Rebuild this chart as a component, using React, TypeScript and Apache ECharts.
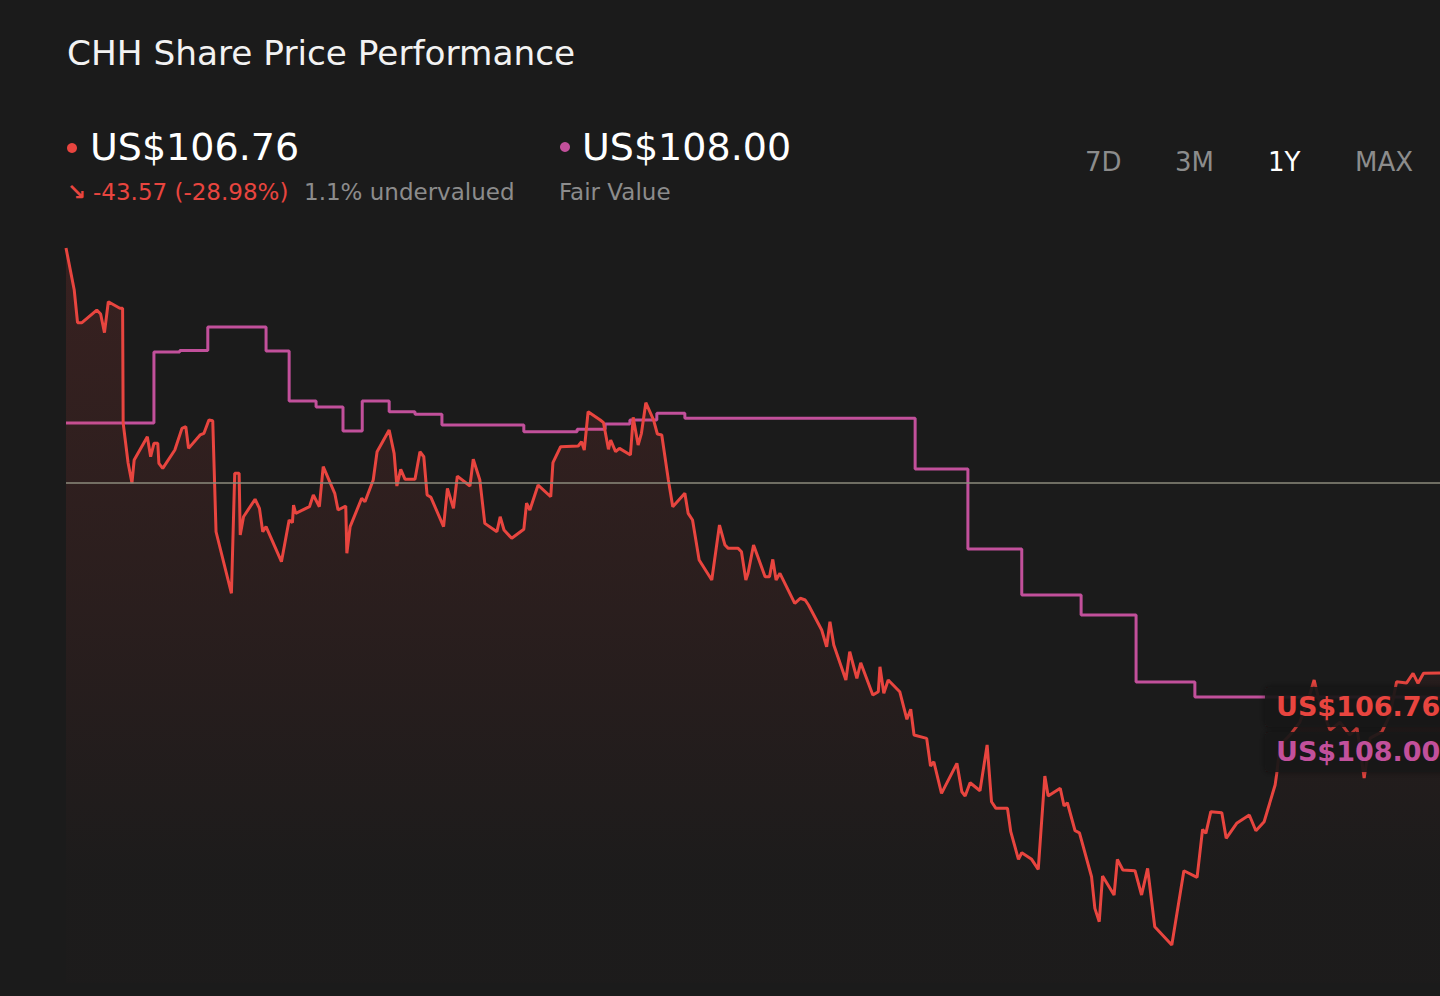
import React, { useEffect, useRef } from "react";
import * as echarts from "echarts";

// Trading-day index (0 = one year ago, 250 = today)
const priceDays = [
  0, 1.5, 2.1, 2.9, 5.6, 6.3, 7.0, 7.7, 9.8, 10.3,
  10.4, 11.3, 12.0, 12.4, 14.8, 15.4, 16.0, 16.7, 16.9, 17.6,
  19.8, 21.1, 21.8, 22.3, 24.4, 25.1, 26.0, 26.7, 27.3, 30.1,
  30.7, 31.5, 31.7, 32.3, 34.4, 35.2, 35.8, 36.4, 39.2, 40.6,
  41.2, 41.4, 41.8, 44.3, 45.0, 46.1, 46.8, 48.9, 49.5, 50.9,
  51.1, 51.7, 53.8, 54.4, 55.9, 56.6, 58.8, 59.7, 60.2, 60.9,
  61.7, 63.5, 64.4, 65.1, 65.7, 66.4, 68.7, 69.4, 70.5, 71.2,
  73.5, 74.1, 75.3, 76.2, 78.4, 79.0, 79.7, 81.1, 83.3, 83.8,
  84.4, 85.9, 88.2, 88.6, 90.0, 93.2, 93.8, 94.3, 95.0, 97.2,
  97.8, 98.7, 99.1, 100.0, 100.7, 102.7, 103.2, 104.1, 104.7, 105.5,
  106.9, 107.6, 108.4, 109.6, 110.4, 112.6, 113.2, 114.0, 115.2, 117.5,
  118.9, 119.9, 120.5, 122.3, 122.9, 123.7, 124.1, 125.1, 127.2, 128.0,
  128.6, 129.2, 129.9, 132.6, 133.6, 134.5, 135.1, 137.5, 138.4, 139.0,
  139.7, 141.9, 142.6, 143.9, 144.6, 146.8, 147.8, 148.1, 148.8, 149.6,
  151.7, 153.0, 153.7, 154.3, 156.6, 157.3, 157.9, 159.3, 162.1, 163.0,
  163.6, 164.5, 166.3, 167.6, 168.4, 169.2, 171.3, 171.9, 173.3, 173.9,
  175.7, 176.9, 178.1, 178.7, 180.9, 181.6, 182.2, 183.6, 184.4, 186.6,
  187.2, 188.0, 188.6, 190.7, 191.3, 192.3, 194.5, 195.7, 196.8, 198.1,
  201.2, 203.4, 205.8, 206.8, 207.4, 208.3, 210.3, 211.1, 213.0, 215.3,
  216.5, 218.0, 220.0, 220.3, 220.9, 222.7, 224.5, 226.0, 227.1, 228.2,
  230.0, 231.8, 233.6, 234.9, 236.2, 237.3, 239.4, 240.9, 242.1, 243.9,
  245.1, 246.0, 247.0, 250,
];

// Share price, US$
const priceValues = [
  150.33, 146.02, 142.67, 142.67, 143.97, 143.56, 141.65, 144.82, 144.15, 144.15,
  132.39, 128.29, 126.24, 128.59, 130.98, 128.93, 130.31, 130.31, 128.26, 127.74,
  129.62, 131.84, 132.01, 129.79, 131.16, 131.33, 132.7, 132.62, 121.24, 114.93,
  127.23, 127.23, 120.91, 122.78, 124.57, 123.64, 121.24, 121.76, 118.17, 122.44,
  122.17, 123.98, 123.13, 123.81, 125.01, 123.81, 127.91, 125.18, 123.47, 123.88,
  119.03, 121.76, 124.67, 124.32, 126.54, 129.45, 131.67, 129.28, 125.93, 127.64,
  126.62, 126.62, 129.45, 128.93, 125.01, 124.77, 121.76, 125.69, 123.64, 126.95,
  125.93, 128.67, 126.54, 122.1, 121.24, 122.78, 121.42, 120.57, 121.49, 124.16,
  123.47, 126.03, 124.83, 128.32, 129.96, 130.03, 130.47, 129.62, 133.55, 132.7,
  132.42, 129.69, 130.65, 129.45, 129.79, 129.11, 132.97, 130.13, 131.33, 134.47,
  132.7, 131.26, 131.16, 126.54, 123.81, 125.18, 123.13, 122.44, 118.34, 116.29,
  121.93, 119.88, 119.54, 119.54, 119.19, 116.29, 116.98, 119.88, 116.63, 116.63,
  118.41, 116.29, 116.98, 113.9, 114.42, 114.24, 113.73, 111.17, 109.45, 112.02,
  109.63, 106.04, 108.94, 106.21, 107.81, 104.5, 104.84, 107.4, 104.68, 106.04,
  104.84, 102.01, 103.04, 100.4, 100.06, 97.22, 97.66, 94.42, 97.5, 94.59,
  94.15, 95.51, 94.69, 99.38, 93.56, 92.89, 92.89, 90.49, 87.66, 88.33,
  87.66, 86.63, 96.2, 94.15, 94.94, 93.12, 93.46, 90.59, 90.38, 85.87,
  82.63, 81.26, 85.95, 84.0, 87.66, 86.56, 86.49, 84.0, 86.73, 80.75,
  78.87, 86.49, 85.81, 90.73, 90.32, 92.54, 92.44, 89.81, 91.35, 92.2,
  90.59, 91.51, 95.28, 96.47, 99.38, 100.4, 101.73, 103.99, 106.04, 103.48,
  100.91, 101.73, 100.4, 101.12, 95.99, 100.09, 100.71, 102.45, 105.87, 105.73,
  106.73, 105.7, 106.73, 106.76,
];

// Fair value steps: day each level starts, and its value
const fairValueDays = [
  0, 16.0, 20.7, 25.8, 36.4, 40.6, 45.5, 50.4, 53.9, 58.8,
  63.5, 68.4, 83.3, 93.0, 98.1, 102.6, 107.5, 112.6, 154.5, 164.1,
  173.9, 184.7, 194.7, 205.4, 250,
];
const fairValueValues = [
  132.39, 139.67, 139.82, 142.23, 139.77, 134.64, 134.03, 131.57, 134.64, 133.55,
  133.28, 132.18, 131.5, 131.74, 132.29, 132.7, 133.38, 132.87, 127.67, 119.47,
  114.75, 112.7, 105.83, 104.3, 104.3,
];

const referenceLevel = 126.24;

const titleText = "CHH Share Price Performance";
const priceText = "US$106.76";
const changeText = "-43.57 (-28.98%)";
const valuationText = "1.1% undervalued";
const fairValueText = "US$108.00";
const fairValueCaption = "Fair Value";
const ranges = ["7D", "3M", "1Y", "MAX"];
const activeRange = "1Y";

const RED = "#e8453f";
const PURPLE = "#c2509b";
const GREY = "#8c8c8c";
const FONT = "DejaVu Sans";

export default function App() {
  const ref = useRef<HTMLDivElement>(null);

  useEffect(() => {
    if (!ref.current) return;
    const chart = echarts.init(ref.current, undefined, { renderer: "svg" });

    const priceData = priceDays.map((d, i) => [d, priceValues[i]]);
    const fvData = fairValueDays.map((d, i) => [d, fairValueValues[i]]);

    const rangeX = [1085, 1175, 1268, 1355];

    const txt = (
      text: string,
      x: number,
      y: number,
      size: number,
      fill: string,
      weight: string = "normal"
    ) => ({
      type: "text",
      x,
      y,
      z: 100,
      style: {
        text,
        fill,
        fontSize: size,
        fontFamily: FONT,
        fontWeight: weight,
        verticalAlign: "middle",
        align: "left",
      },
    });

    const option: any = {
      animation: false,
      backgroundColor: "#1b1b1b",
      grid: { left: 66, right: 0, top: 202.45, bottom: 13.2 },
      xAxis: { type: "value", min: 0, max: 250, show: false },
      yAxis: { type: "value", min: 75, max: 155, show: false },
      series: [
        {
          name: "Fair Value",
          type: "line",
          step: "end",
          data: fvData,
          showSymbol: false,
          z: 2,
          lineStyle: { color: PURPLE, width: 3 },
          markLine: {
            silent: true,
            symbol: "none",
            label: { show: false },
            lineStyle: { color: "#8d8b7d", width: 1.5, type: "solid" },
            data: [{ yAxis: referenceLevel }],
          },
        },
        {
          name: "Price",
          type: "line",
          data: priceData,
          showSymbol: false,
          z: 3,
          lineStyle: { color: RED, width: 3 },
          areaStyle: {
            color: new echarts.graphic.LinearGradient(
              0,
              248,
              0,
              875,
              [
                { offset: 0, color: "rgba(232,69,63,0.2)" },
                { offset: 0.6, color: "rgba(232,69,63,0.1)" },
                { offset: 1, color: "rgba(232,69,63,0.01)" },
              ],
              true
            ),
          },
        },
      ],
      graphic: [
        txt(titleText, 67, 53, 34.3, "#f2f2f2"),
        { type: "circle", z: 100, shape: { cx: 72, cy: 148, r: 5 }, style: { fill: RED } },
        txt(priceText, 90, 147, 38, "#ffffff"),
        txt("↘", 67, 192, 23, RED, "bold"),
        txt(changeText, 93, 192, 23, RED),
        txt(valuationText, 304, 192, 23, GREY),
        { type: "circle", z: 100, shape: { cx: 565, cy: 147, r: 5 }, style: { fill: PURPLE } },
        txt(fairValueText, 582, 147, 38, "#ffffff"),
        txt(fairValueCaption, 559, 192, 23, GREY),
        ...ranges.map((r, i) =>
          txt(r, rangeX[i], 162, 26, r === activeRange ? "#ffffff" : GREY)
        ),
        {
          type: "rect",
          z: 99,
          shape: { x: 1265, y: 687, width: 190, height: 40, r: 4 },
          style: { fill: "rgba(24,22,22,0.88)", shadowBlur: 6, shadowColor: "rgba(0,0,0,0.5)" },
        },
        {
          type: "rect",
          z: 99,
          shape: { x: 1265, y: 732, width: 190, height: 40, r: 4 },
          style: { fill: "rgba(24,22,22,0.88)", shadowBlur: 6, shadowColor: "rgba(0,0,0,0.5)" },
        },
        txt(priceText, 1276, 706, 27, RED, "bold"),
        txt(fairValueText, 1276, 751, 27, PURPLE, "bold"),
      ],
    };

    chart.setOption(option);
    return () => chart.dispose();
  }, []);

  return (
    <div
      ref={ref}
      style={{ position: "absolute", left: 0, top: 0, width: 1440, height: 996 }}
    />
  );
}
